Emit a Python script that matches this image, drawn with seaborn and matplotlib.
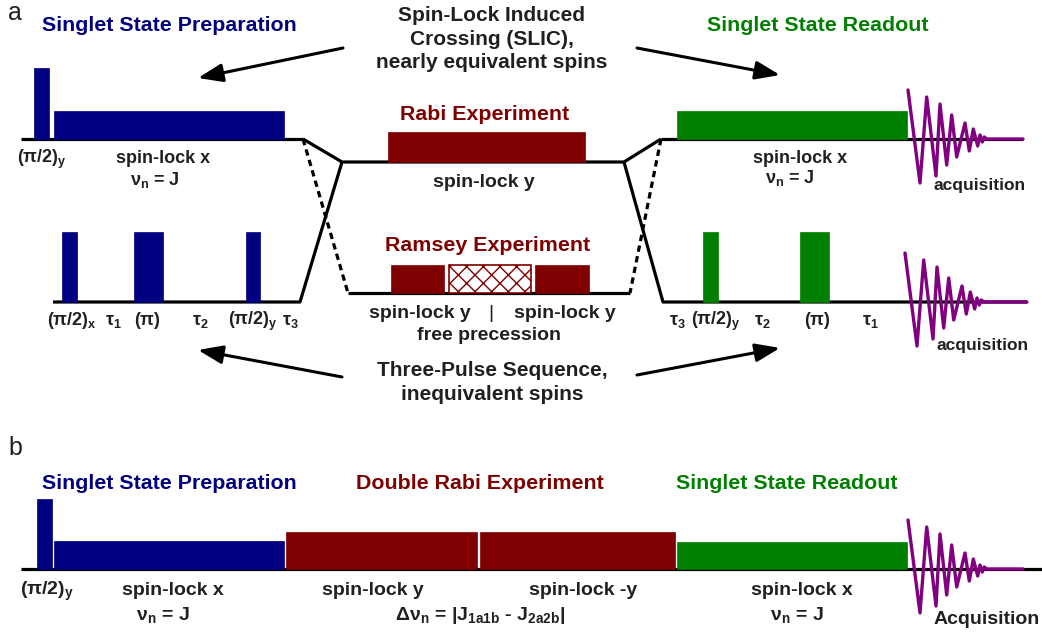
import matplotlib
matplotlib.use("Agg")
import matplotlib.pyplot as plt
import seaborn as sns
import pandas as pd

sns.set_theme(style="white")
plt.rcParams["font.family"] = ["Liberation Sans", "DejaVu Sans"]
plt.rcParams["mathtext.fontset"] = "custom"
for k in ("rm", "it", "bf", "sf"):
    plt.rcParams["mathtext." + k] = "Liberation Sans:bold"
plt.rcParams["mathtext.default"] = "rm"
plt.rcParams["hatch.linewidth"] = 1.0

NAVY, DRED, GREEN, PURPLE, TXT = "#000080", "#7f0000", "#007f00", "#800080", "#231f20"

# ---------------- data (time / amplitude units) ----------------
# Panel a, top row (SLIC)
prep_start = [34, 54]
prep_dur = [15, 230]
prep_amp = [71, 28]
rabi_start = [388]
rabi_dur = [197]
rabi_amp = [30]
read_start = [677]
read_dur = [230]
read_amp = [28]
# Panel a, bottom row (three-pulse / Ramsey)
tp_start = [62, 134, 246]
tp_dur = [15, 29, 14]
tp_amp = [70, 70, 70]
ramsey_start = [391, 449, 535]
ramsey_dur = [53, 82, 54]
ramsey_amp = [28, 28, 28]
ramsey_free = [False, True, False]
tpr_start = [703, 800]
tpr_dur = [15, 29]
tpr_amp = [70, 70]
# Panel b
b_start = [37, 54, 286, 480, 677]
b_dur = [15, 230, 191, 195, 230]
b_amp = [70, 28, 37, 37, 27]
b_col = [NAVY, NAVY, DRED, DRED, GREEN]
# FID (acquisition) samples
fid_t = [0, 12, 18.7, 28, 32, 38.7, 43.7, 48.7, 57, 61.3, 65.3, 69.7, 72, 74.3, 76.3, 78.7, 115]
fid_amp = [49, -44, 42, -37, 35, -26, 24, -18, 16, -12, 10, -7, 4, -3, 2, 0, 0]

# ---------------- figure ----------------
fig = plt.figure(figsize=(10.42, 6.33), dpi=100)
ax = fig.add_axes([0, 0, 1, 1])
ax.set_xlim(0, 1042)
ax.set_ylim(633, 0)
ax.axis("off")

LW = 2.3


def line(xs, ys, **kw):
    kw.setdefault("color", "black")
    kw.setdefault("lw", LW)
    ax.plot(xs, ys, solid_capstyle="butt", zorder=1, **kw)


def pulses(start, dur, amp, base, color):
    cols = color if isinstance(color, list) else [color] * len(start)
    for s, d, a, c in zip(start, dur, amp, cols):
        ax.bar(s, -a, width=d, bottom=base, align="edge", color=c,
               edgecolor=c, linewidth=0.5, zorder=2)


def fid(t0, base, tend):
    df = pd.DataFrame({"t": [t0 + t for t in fid_t[:-1]] + [tend],
                       "y": [base - a for a in fid_amp]})
    sns.lineplot(data=df, x="t", y="y", sort=False, estimator=None,
                 color=PURPLE, lw=2.4, ax=ax, zorder=3)


def txt(x, y, s, color=TXT, size=13, ha="center", weight="bold"):
    ax.text(x, y, s, color=color, fontsize=size, ha=ha, va="baseline",
            fontweight=weight)


# ---- Panel a, top row ----
line([21, 303], [139, 139])
line([303, 342, 624, 661], [139, 162, 162, 139])
line([661, 1023], [139, 139])
pulses(prep_start, prep_dur, prep_amp, 139, NAVY)
pulses(rabi_start, rabi_dur, rabi_amp, 162, DRED)
pulses(read_start, read_dur, read_amp, 139, GREEN)
fid(908, 139, 1023)

# ---- Panel a, bottom row ----
line([53, 300, 342], [302, 302, 162])
line([624, 663, 1027], [162, 302, 302])
line([348, 630], [293, 293])
line([303, 348], [139, 293], ls=(0, (2, 1.4)))
line([661, 630], [139, 293], ls=(0, (2, 1.4)))
pulses(tp_start, tp_dur, tp_amp, 302, NAVY)
for s, d, a, free in zip(ramsey_start, ramsey_dur, ramsey_amp, ramsey_free):
    if free:
        ax.bar(s, -a, width=d, bottom=293, align="edge", facecolor="white",
               edgecolor=DRED, hatch="xx", linewidth=1.2, zorder=2)
    else:
        ax.bar(s, -a, width=d, bottom=293, align="edge", color=DRED,
               edgecolor=DRED, linewidth=0.5, zorder=2)
pulses(tpr_start, tpr_dur, tpr_amp, 302, GREEN)
fid(905, 302, 1027)

# ---- Panel b ----
line([21, 1042], [569, 569])
pulses(b_start, b_dur, b_amp, 569, b_col)
fid(908, 569, 1023)

# ---- arrows ----
ap = dict(arrowstyle="-|>,head_length=0.75,head_width=0.28", lw=2.2,
          color="black", shrinkA=0, shrinkB=0, mutation_scale=20)
for (x0, y0), (x1, y1) in [((343, 48), (198, 78)), ((637, 48), (780, 75)),
                           ((342, 377), (198, 350)), ((637, 375), (780, 348))]:
    ax.annotate("", xy=(x1, y1), xytext=(x0, y0), arrowprops=ap, zorder=4)

# ---- texts panel a ----
txt(15, 20, "a", size=18, weight="normal")
txt(169, 31, "Singlet State Preparation", NAVY, 15.4)
txt(818, 31, "Singlet State Readout", GREEN, 15.4)
txt(492, 21, "Spin-Lock Induced", TXT, 15)
txt(492, 45, "Crossing (SLIC),", TXT, 15)
txt(492, 68, "nearly equivalent spins", TXT, 15)
txt(485, 120, "Rabi Experiment", DRED, 15.4)
txt(488, 251, "Ramsey Experiment", DRED, 15.4)
txt(492, 376, "Three-Pulse Sequence,", TXT, 15)
txt(492, 400, "inequivalent spins", TXT, 15)

txt(17, 163, r"$(\pi/2)_y$", size=13, ha="left")
txt(163, 163, "spin-lock x", size=13)
txt(155, 185, r"$\nu_n$ = J", size=13)
txt(484, 187, "spin-lock y", size=14)
txt(800, 163, "spin-lock x", size=13)
txt(790, 183, r"$\nu_n$ = J", size=13)
txt(980, 190, "acquisition", size=12.5)

txt(72, 325, r"$(\pi/2)_x$", size=13)
txt(113, 325, r"$\tau_1$", size=13)
txt(147, 325, r"$(\pi)$", size=13)
txt(200, 325, r"$\tau_2$", size=13)
txt(253, 325, r"$(\pi/2)_y$", size=13)
txt(290, 325, r"$\tau_3$", size=13)
txt(420, 318, "spin-lock y", size=14)
txt(491, 318, "|", size=14, weight="normal")
txt(565, 318, "spin-lock y", size=14)
txt(489, 340, "free precession", size=14)
txt(677, 325, r"$\tau_3$", size=13)
txt(691, 325, r"$(\pi/2)_y$", size=13, ha="left")
txt(762, 325, r"$\tau_2$", size=13)
txt(817, 325, r"$(\pi)$", size=13)
txt(870, 325, r"$\tau_1$", size=13)
txt(983, 350, "acquisition", size=12.5)

# ---- texts panel b ----
txt(15, 455, "b", size=18, weight="normal")
txt(169, 489, "Singlet State Preparation", NAVY, 15.4)
txt(480, 489, "Double Rabi Experiment", DRED, 15.4)
txt(787, 489, "Singlet State Readout", GREEN, 15.4)
txt(47, 595, r"$(\pi/2)_y$", size=14)
txt(173, 595, "spin-lock x", size=14)
txt(163, 620, r"$\nu_n$ = J", size=14)
txt(373, 595, "spin-lock y", size=14)
txt(480, 620, r"$\Delta\nu_n$ = |J$_{1a1b}$ - J$_{2a2b}$|", size=14)
txt(583, 595, "spin-lock -y", size=14)
txt(802, 595, "spin-lock x", size=14)
txt(797, 620, r"$\nu_n$ = J", size=14)
txt(987, 624, "Acquisition", size=14)

fig.savefig("out.png", dpi=100)
